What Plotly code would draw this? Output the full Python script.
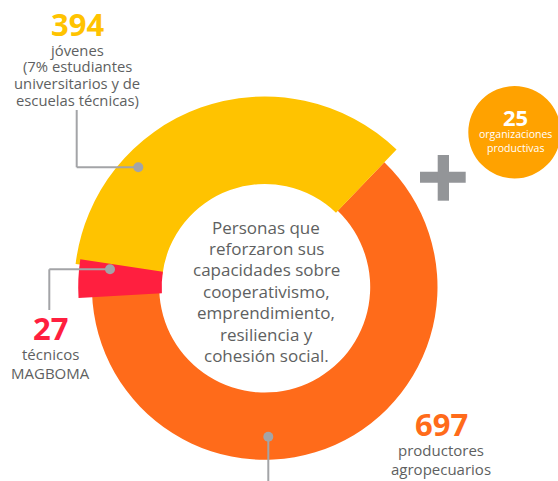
import plotly.graph_objects as go

# ---------------- data ----------------
categories = ["productores agropecuarios", "técnicos MAGBOMA", "jóvenes"]
values = [697, 27, 394]
value_labels = ["697", "27", "394"]
extra_value_label = "25"
extra_lines = ["organizaciones", "productivas"]
center_lines = ["Personas que", "reforzaron sus", "capacidades sobre",
                "cooperativismo,", "emprendimiento,", "resiliencia y",
                "cohesión social."]
orange_lines = ["productores", "agropecuarios"]
red_lines = ["técnicos", "MAGBOMA"]
yellow_lines = ["jóvenes", "(7% estudiantes", "universitarios y de",
                "escuelas técnicas)"]

# ---------------- style ----------------
W, H = 558, 481
FONT = "Open Sans"
GRAY_TXT = "#5E5F61"
LEAD = "#A3A4A7"
colors = ["#FF6B1A", "#FF1F3F", "#FFC300"]
CIRCLE_COL = "#FFA200"
PLUS_COL = "#939598"

CX, CY, PR = 264.7, 287.0, 193.0      # donut centre / polar radius in px
START_DEG = 43.8                       # clockwise from north
inner_r = [105.5, 103.0, 103.0]
outer_r = [172.8, 186.5, 190.5]
MIN_VISIBLE_DEG = 12.0                 # tiny slices drawn wider, on top


def px(x):
    return x / W


def py(y):
    return 1 - y / H


total = sum(values)
spans = [v / total * 360 for v in values]
centers = []
acc = START_DEG
for s in spans:
    centers.append(acc + s / 2)
    acc += s

fig = go.Figure()
draw_order = sorted(range(len(values)), key=lambda i: -values[i])
for i in draw_order:
    width = max(spans[i], MIN_VISIBLE_DEG)
    fig.add_trace(go.Barpolar(
        theta=[centers[i]], width=[width], base=[inner_r[i]],
        r=[outer_r[i] - inner_r[i]],
        marker=dict(color=colors[i], line=dict(width=0)),
        name=categories[i], hoverinfo="skip"))

fig.update_layout(
    width=W, height=H, margin=dict(l=0, r=0, t=0, b=0),
    paper_bgcolor="white", plot_bgcolor="white", showlegend=False,
    polar=dict(
        domain=dict(x=[px(CX - PR), px(CX + PR)], y=[py(CY + PR), py(CY - PR)]),
        bgcolor="rgba(0,0,0,0)",
        radialaxis=dict(visible=False, range=[0, PR], showgrid=False),
        angularaxis=dict(visible=False, rotation=90, direction="clockwise",
                         showgrid=False, showline=False),
    ),
)

ann = []


def text(x, y, t, size, color=GRAY_TXT, bold=False):
    ann.append(dict(x=px(x), y=py(y), xref="paper", yref="paper",
                    text=f"<b>{t}</b>" if bold else t, showarrow=False,
                    xanchor="center", yanchor="middle",
                    font=dict(family=FONT, size=size, color=color)))


# centre text
for k, line in enumerate(center_lines):
    text(266, 227 + k * 21.4, line, 17)

# yellow label
text(77, 24, value_labels[2], 31, colors[2], bold=True)
for k, line in enumerate(yellow_lines):
    text(77, 49.5 + k * 16.8, line, 14.8)

# red label
text(50.5, 327.5, value_labels[1], 31, colors[1], bold=True)
for k, line in enumerate(red_lines):
    text(50.5, 354 + k * 19, line, 15)

# orange label
text(441, 423.5, value_labels[0], 31, colors[0], bold=True)
for k, line in enumerate(orange_lines):
    text(441, 450 + k * 18.5, line, 15)

# extra circle
text(515, 117, extra_value_label, 22, "white", bold=True)
for k, line in enumerate(extra_lines):
    text(515, 134 + k * 14, line, 10.5, "white")

shapes = []


def seg(x0, y0, x1, y1):
    shapes.append(dict(type="line", xref="paper", yref="paper",
                       x0=px(x0), y0=py(y0), x1=px(x1), y1=py(y1),
                       line=dict(color=LEAD, width=2)))


def dot(x, y, r, color):
    shapes.append(dict(type="circle", xref="paper", yref="paper",
                       x0=px(x - r), x1=px(x + r), y0=py(y + r), y1=py(y - r),
                       fillcolor=color, line=dict(width=0)))


def rect(x0, y0, x1, y1, color):
    shapes.append(dict(type="rect", xref="paper", yref="paper",
                       x0=px(x0), x1=px(x1), y0=py(y1), y1=py(y0),
                       fillcolor=color, line=dict(width=0)))


# leaders
seg(138.3, 167.3, 76.7, 167.3)
seg(76.7, 167.3, 76.7, 110)
dot(138.3, 167.3, 5, LEAD)
seg(110, 269.3, 49.3, 269.3)
seg(49.3, 269.3, 49.3, 310)
dot(110, 269.3, 5, LEAD)
seg(268.3, 436.7, 268.3, 485)
dot(268.3, 436.7, 5, LEAD)

# plus sign
rect(420, 171.7, 465.7, 182.7, PLUS_COL)
rect(437.7, 155, 449, 200.7, PLUS_COL)

# orange circle (behind text)
dot(514.5, 132.2, 46.2, CIRCLE_COL)

fig.update_layout(annotations=ann, shapes=shapes)
fig.write_html(
    "out.html",
    config={"displayModeBar": False},
    post_script="document.body.style.margin='0';"
                "document.body.style.overflow='hidden';",
)
